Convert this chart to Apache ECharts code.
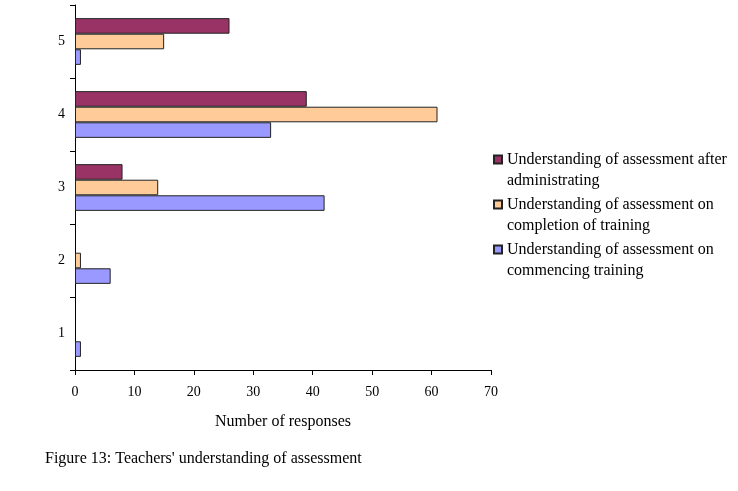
<!DOCTYPE html>
<html>
<head>
<meta charset="utf-8">
<script src="https://cdn.jsdelivr.net/npm/echarts@6/dist/echarts.min.js"></script>
<style>html,body{margin:0;padding:0;background:#fff}#c{width:738px;height:491px}</style>
</head>
<body>
<div id="c"></div>
<script>
var categories = ['1', '2', '3', '4', '5'];
var seriesNames = [
  'Understanding of assessment after administrating',
  'Understanding of assessment on completion of training',
  'Understanding of assessment on commencing training'
];
var after = [0, 0, 8, 39, 26];
var completion = [0, 1, 14, 61, 15];
var commencing = [1, 6, 42, 33, 1];
var xTicks = [0, 10, 20, 30, 40, 50, 60, 70];
var legendLines = {
  'Understanding of assessment after administrating': 'Understanding of assessment after\nadministrating',
  'Understanding of assessment on completion of training': 'Understanding of assessment on\ncompletion of training',
  'Understanding of assessment on commencing training': 'Understanding of assessment on\ncommencing training'
};

var font = 'Liberation Serif, Times New Roman, serif';
var colors = ['#993366', '#FFCC99', '#9999FF'];
var values = [after, completion, commencing];

var chart = echarts.init(document.getElementById('c'));
chart.setOption({
  animation: false,
  backgroundColor: '#fff',
  title: {
    text: 'Figure 13: Teachers\' understanding of assessment',
    left: 40, top: 446,
    textStyle: {fontFamily: font, fontSize: 16, fontWeight: 'normal', color: '#000'}
  },
  grid: {left: 75, right: 247, top: 5, bottom: 121},
  legend: {
    orient: 'vertical',
    left: 488, top: 123,
    icon: 'rect', itemWidth: 8, itemHeight: 8, itemGap: -18,
    data: seriesNames.slice(),
    formatter: function (n) { return '\n' + legendLines[n]; },
    textStyle: {fontFamily: font, fontSize: 16, color: '#000', lineHeight: 21}
  },
  xAxis: {
    type: 'value', min: xTicks[0], max: xTicks[xTicks.length - 1], interval: 10,
    name: 'Number of responses', nameLocation: 'middle', nameGap: 44,
    nameTextStyle: {fontFamily: font, fontSize: 16, color: '#000'},
    axisLine: {show: true, lineStyle: {color: '#000', width: 1}},
    axisTick: {show: true, length: 5, lineStyle: {color: '#000'}},
    axisLabel: {fontFamily: font, fontSize: 14, color: '#000', margin: 15},
    splitLine: {show: false}
  },
  yAxis: {
    type: 'category', data: categories,
    axisLine: {show: true, lineStyle: {color: '#000', width: 1}},
    axisTick: {show: true, length: 5, lineStyle: {color: '#000'}},
    axisLabel: {fontFamily: font, fontSize: 14, color: '#000', margin: 10}
  },
  series: seriesNames.map(function (n, i) {
    return {
      name: n, type: 'bar',
      data: values[i].map(function (v) {
        return v === 0 ? {value: v, itemStyle: {borderWidth: 0, opacity: 0}} : v;
      }),
      barGap: '0%', barCategoryGap: '36%',
      itemStyle: {color: colors[i], borderColor: '#222', borderWidth: 1}
    };
  })
});
</script>
</body>
</html>
